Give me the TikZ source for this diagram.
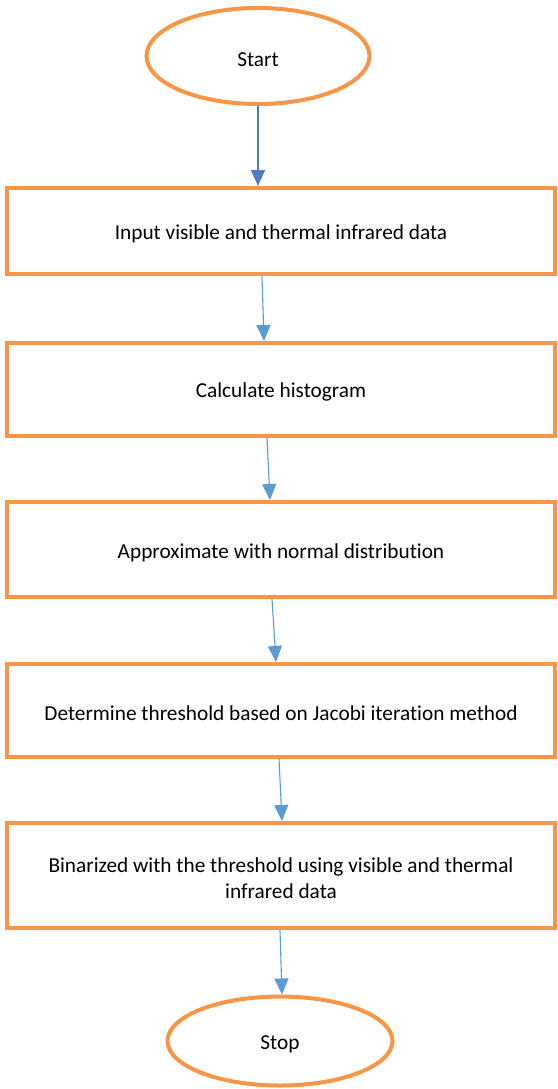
\documentclass[tikz,border=0pt]{standalone}
\usepackage{fontspec}
\setmainfont{Carlito}[Ligatures=NoCommon]
\usetikzlibrary{shapes.geometric,arrows.meta}
\definecolor{boxorange}{HTML}{F79646}
\definecolor{darkarrow}{HTML}{4A7EC0}
\definecolor{lightarrow}{HTML}{5B9BD5}
\newcommand\tup{\rule{0pt}{20.5pt}}
\tikzset{
  term/.style={ellipse,draw=boxorange,line width=4pt,fill=white,inner sep=0pt,font=\fontsize{21.3}{26}\selectfont},
  stepbox/.style={rectangle,draw=boxorange,line width=4pt,fill=white,minimum width=548pt,align=center,font=\fontsize{21.3}{26}\selectfont},
  arrd/.style={draw=darkarrow,line width=1.6pt,-{Triangle[width=14pt,length=16pt]}},
  arrl/.style={draw=lightarrow,line width=1.1pt,-{Triangle[width=14pt,length=16pt]}}
}
\begin{document}
\begin{tikzpicture}[x=1pt,y=-1pt]
\useasboundingbox (0,0) rectangle (557,1089);
\node[term,minimum width=223pt,minimum height=96pt] (start) at (258,56) {\tup Start};
\node[stepbox,minimum height=86pt] (b1) at (281,231) {\tup Input visible and thermal infrared data};
\node[stepbox,minimum height=93pt] (b2) at (281,389.5) {\tup Calculate histogram};
\node[stepbox,minimum height=95pt] (b3) at (281,549.5) {\tup Approximate with normal distribution};
\node[stepbox,minimum height=93pt] (b4) at (281,710.5) {\tup Determine threshold based on Jacobi iteration method};
\node[stepbox,minimum height=105pt] (b5) at (281,875.5) {\tup Binarized with the threshold using visible and thermal\\infrared data};
\node[term,minimum width=225pt,minimum height=89pt] (stop) at (280,1041) {\tup Stop};
\draw[arrd] ([xshift=0pt]start.south) -- ([xshift=-23pt]b1.north);
\draw[arrl] ([xshift=-19pt]b1.south) -- ([xshift=-17pt]b2.north);
\draw[arrl] ([xshift=-14pt]b2.south) -- ([xshift=-11pt]b3.north);
\draw[arrl] ([xshift=-9pt]b3.south) -- ([xshift=-5pt]b4.north);
\draw[arrl] ([xshift=-2pt]b4.south) -- ([xshift=1pt]b5.north);
\draw[arrl] ([xshift=-1pt]b5.south) -- ([xshift=2pt]stop.north);
\end{tikzpicture}
\end{document}
